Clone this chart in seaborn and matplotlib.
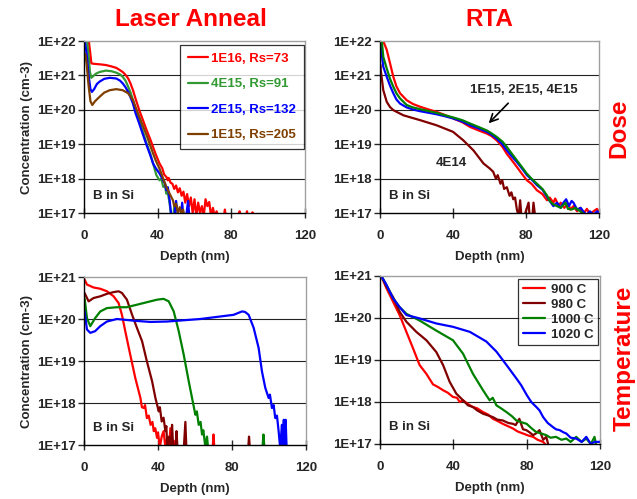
import matplotlib
matplotlib.use("Agg")
import matplotlib.pyplot as plt
import seaborn as sns
import numpy as np
import pandas as pd
from matplotlib.ticker import FixedLocator, FixedFormatter, NullLocator

# ---------------- data (depth in nm, log10 of concentration in cm-3) -------------
# Laser anneal, dose series
la_dose_labels = ["1E16, Rs=73", "4E15, Rs=91", "2E15, Rs=132", "1E15, Rs=205"]
la_dose_colors = ["#ff0000", "#339933", "#0000ff", "#7f3f00"]
la_d_1e16 = [0.3, 2.5, 3.5, 4.0, 5, 6.7, 9, 12, 15, 17.5, 19, 21, 22.5, 24, 25.3, 26.6, 28, 30, 32, 34, 36, 37.5, 39, 41, 42.5,
             43.5, 44.7, 45.5, 46, 47, 48, 49, 50, 51, 52, 53, 54, 55, 56, 57, 58, 59, 60, 61, 62, 63, 64, 65, 66, 67,
             68, 69, 70, 71, 72, 73, 76, 76.5, 77, 84, 84.5, 85, 88, 88.5, 89, 91, 91.5, 92]
la_c_1e16 = [22.3, 22.05, 21.6, 21.35, 21.34, 21.33, 21.32, 21.30, 21.26, 21.22, 21.17, 21.1, 21.02, 20.91, 20.76, 20.57, 20.32, 19.99, 19.7, 19.41, 19.14, 18.92, 18.7, 18.44, 18.3,
             18.12, 18.05, 17.95, 18.02, 17.88, 17.85, 17.7, 17.8, 17.6, 17.72, 17.5, 17.62, 17.3, 17.55, 17.2, 17.45, 17.0, 17.4, 16.9, 17.3, 17.0, 17.2, 16.9, 17.4, 17.2,
             17.32, 16.9, 17.15, 16.9, 17.05, 16.9, 16.9, 17.1, 16.9, 16.9, 17.05, 16.9, 16.9, 17.05, 16.9, 16.9, 17.02, 16.9]
la_d_4e15 = [0.3, 1.5, 2.5, 3.2, 4, 5, 6.5, 8.5, 12, 15, 17.5, 19.5, 21, 22.5, 24, 25.3, 26.6, 28, 30, 32, 34, 36, 37.5, 39.3,
             41, 42, 43, 44, 44.7, 45.5, 46.5, 47.4, 48.5, 49, 49.6]
la_c_4e15 = [22.4, 22.05, 21.6, 21.1, 20.93, 20.98, 21.05, 21.1, 21.14, 21.12, 21.08, 21.03, 20.96, 20.85, 20.67, 20.5, 20.28, 20.0, 19.7, 19.36, 19.02, 18.72, 18.44, 18.1,
              17.95, 18.0, 17.76, 17.8, 17.56, 17.6, 17.27, 16.9, 16.9, 17.2, 16.9]
la_d_2e15 = [0.2, 0.6, 1.5, 2.5, 3.5, 4.3, 5.5, 7, 8.5, 11, 14, 17.5, 19.5, 21, 22.5, 24, 25.3, 26.6, 28, 30, 32, 34, 36, 37.5,
             39, 41, 42, 43, 44, 44.7, 45.5, 46.5, 47.4, 49, 50, 51, 52.5, 53.3, 54, 55.5, 56.5, 57.2]
la_c_2e15 = [22.1, 21.95, 21.6, 21.0, 20.6, 20.52, 20.6, 20.75, 20.82, 20.9, 20.93, 20.91, 20.85, 20.77, 20.66, 20.52, 20.36, 20.18, 19.9, 19.6, 19.28, 18.97, 18.68, 18.44,
             18.3, 18.15, 18.05, 17.95, 17.85, 17.66, 17.75, 17.37, 16.9, 16.9, 17.35, 16.9, 16.9, 17.3, 16.9, 16.9, 17.35, 16.9]
la_d_1e15 = [0.0, 0.8, 1.5, 2.5, 3.5, 4.5, 6, 8.5, 11, 14, 17.5, 21, 24, 26.6, 28, 30, 32, 34, 36, 37.5, 39, 41, 43, 44.7,
             46.5, 48.3, 49, 50, 51, 52, 53, 53.8, 54.5]
la_c_1e15 = [21.65, 21.6, 21.3, 20.7, 20.25, 20.14, 20.25, 20.38, 20.5, 20.57, 20.6, 20.57, 20.48, 20.28, 20.08, 19.8, 19.53, 19.26, 18.96, 18.73, 18.52, 18.29, 18.0, 17.76,
             17.56, 17.37, 17.2, 17.27, 17.0, 17.17, 16.95, 17.1, 16.9]

# RTA, dose series
rta_dose_colors = ["#ff0000", "#0000ff", "#008000", "#800000"]
rta_d_4e15 = [1.5, 1.8, 3.7, 5.5, 7.3, 9, 11, 14.6, 18, 21.9, 26, 31, 35, 40, 45, 49.4, 54, 58.5, 61, 64, 67, 69.5, 72, 75, 78, 80.5,
              83, 86, 89, 91.5, 93, 95, 96, 98, 99, 101, 103, 104.3, 106, 108, 109.7, 111, 113.4, 115, 117, 118.9, 120]
rta_c_4e15 = [22.1, 22.0, 21.74, 21.35, 20.96, 20.68, 20.48, 20.28, 20.17, 20.09, 20.02, 19.94, 19.86, 19.75, 19.64, 19.5, 19.4, 19.31, 19.24, 19.11, 18.93, 18.72, 18.55, 18.34, 18.12, 17.95,
              17.85, 17.66, 17.55, 17.37, 17.45, 17.3, 17.42, 17.2, 17.3, 17.15, 17.28, 17.1, 17.2, 17.05, 17.15, 16.95, 17.12, 16.95, 17.05, 17.12, 17.0]
rta_d_2e15 = [0.5, 1.0, 1.8, 3.7, 5.5, 7.3, 9, 11, 14.6, 18, 21.9, 26, 31, 35, 40, 45, 49.4, 54, 58.5, 61, 64, 67, 69.5, 72, 75,
              78, 80.5, 83, 86, 89, 91.5, 93, 95, 97, 99, 100.5, 102, 103.5, 105, 106, 108, 110, 112, 113.4, 115, 117, 119, 120]
rta_c_2e15 = [22.1, 21.6, 21.25, 20.96, 20.7, 20.48, 20.3, 20.18, 20.07, 20.01, 19.96, 19.92, 19.87, 19.82, 19.75, 19.66, 19.55, 19.46, 19.36, 19.28, 19.16, 19.0, 18.82, 18.66, 18.48,
              18.28, 18.1, 17.98, 17.81, 17.68, 17.47, 17.35, 17.2, 17.3, 17.15, 17.3, 17.4, 17.2, 17.35, 17.3, 17.1, 17.15, 17.0, 16.95, 17.05, 16.95, 17.05, 17.02]
rta_d_1e15 = [0.9, 1.8, 3.7, 5.5, 7.3, 9, 11, 14.6, 18, 21.9, 26, 31, 35, 40, 45, 49.4, 54, 58.5, 61, 64, 67, 69.5, 72, 75, 78,
              80.5, 83, 86, 89, 91.5, 93, 95, 97, 99, 101.6, 103, 105, 107, 109.7, 112, 113.4, 116]
rta_c_1e15 = [22.05, 21.54, 21.2, 20.9, 20.67, 20.48, 20.33, 20.14, 20.07, 20.02, 19.97, 19.91, 19.85, 19.78, 19.7, 19.6, 19.5, 19.4, 19.32, 19.21, 19.08, 18.92, 18.74, 18.53, 18.32,
              18.14, 18.0, 17.85, 17.7, 17.51, 17.35, 17.25, 17.2, 17.15, 17.3, 17.12, 17.1, 17.15, 17.05, 16.95, 16.95, 16.9]
rta_d_4e14 = [0.3, 0.4, 1.8, 3.7, 5.5, 7.3, 12.8, 21.9, 31, 40, 45.7, 51.2, 56.7, 60, 62, 63.5, 64.5, 66, 67, 68, 69.5, 71, 72, 73,
              74, 75, 76, 76.8, 77.5, 79, 81.4, 82, 83.5, 84.1, 85]
rta_c_4e14 = [21.3, 21.16, 20.57, 20.23, 20.08, 19.99, 19.84, 19.7, 19.55, 19.36, 19.11, 18.82, 18.44, 18.3, 18.2, 18.0, 18.1, 17.85, 17.95, 17.7, 17.75, 17.5, 17.6, 17.4,
              17.45, 17.1, 16.9, 17.37, 16.9, 16.9, 17.3, 16.9, 16.9, 17.3, 16.9]

# Laser anneal, temperature series (no legend)
lt_colors = ["#ff0000", "#800000", "#008000", "#0000ff"]
lt_d_red = [0.3, 1.6, 5.2, 8.8, 12.4, 16, 18.7, 20.5, 22.3, 25, 27.7, 30.5, 31.3, 32.3, 33, 34, 35, 36, 37, 37.7, 38.5, 39.5, 40,
            41, 42, 43, 44, 45, 46, 46.7, 47.5, 48.5, 49, 69.5, 70, 70.5]
lt_c_red = [20.94, 20.82, 20.75, 20.72, 20.66, 20.54, 20.38, 20.1, 19.71, 19.15, 18.6, 18.12, 17.9, 17.88, 17.95, 17.64, 17.7, 17.48, 17.55, 17.33, 17.4, 17.17, 17.3,
            16.95, 17.2, 17.33, 16.95, 17.17, 16.95, 17.4, 16.95, 17.1, 16.9, 16.9, 17.25, 16.9]
lt_d_brn = [0.3, 2.5, 5.2, 8.8, 12.4, 16, 18.7, 20.5, 23.2, 26, 28.6, 31.4, 34, 36.8, 38.6, 40.4, 41, 42, 43, 44, 44.5, 45, 46,
            47, 47.6, 48.2, 49.5, 50, 50.5, 54, 54.8, 55.3, 88.8, 89.2, 89.6]
lt_c_brn = [20.62, 20.42, 20.5, 20.54, 20.6, 20.64, 20.66, 20.62, 20.46, 20.1, 19.79, 19.47, 18.99, 18.52, 18.12, 17.8, 17.9, 17.56, 17.65, 17.33, 17.45, 16.95, 17.2,
            16.95, 17.48, 16.95, 16.95, 17.33, 16.95, 16.95, 17.55, 16.95, 16.95, 17.2, 16.95]
lt_d_grn = [0.3, 1.6, 3.4, 6, 8.8, 12.4, 17.8, 23, 28.6, 34, 39.5, 43, 45.8, 48.5, 51.2, 53.9, 56.6, 58.4, 60.2, 61, 62, 63, 63.8,
            64.5, 65.6, 66.5, 67, 96.5, 97, 97.5]
lt_c_grn = [20.5, 20.02, 19.83, 20.02, 20.18, 20.26, 20.28, 20.28, 20.34, 20.4, 20.46, 20.48, 20.42, 20.18, 19.71, 19.15, 18.52, 18.12, 17.72, 17.8, 17.48, 17.55, 17.25,
            17.35, 16.95, 17.2, 16.95, 16.95, 17.25, 16.95]
lt_d_blu = [0.3, 1.6, 3.4, 6, 8.8, 12.4, 17.8, 26.8, 35.9, 44.9, 53.9, 62.9, 71.9, 80.9, 85.4, 87, 89, 91.7, 94.4, 96.2, 98, 99.8,
            100.5, 101.6, 102.5, 103.4, 104.3, 105.2, 106, 106.5, 107, 107.5, 108, 108.5, 109, 109.5]
lt_c_blu = [20.18, 19.75, 19.67, 19.71, 19.83, 19.94, 20.0, 19.96, 19.93, 19.94, 19.97, 20.0, 20.05, 20.1, 20.18, 20.17, 20.1, 19.79, 19.31, 18.75, 18.36, 18.12,
            18.2, 17.88, 17.95, 17.64, 17.7, 17.33, 16.95, 17.2, 17.48, 16.95, 17.6, 16.95, 17.6, 16.95]

# RTA, temperature series
rt_labels = ["900 C", "980 C", "1000 C", "1020 C"]
rt_colors = ["#ff0000", "#800000", "#008000", "#0000ff"]
rt_d_900 = [0.7, 3.5, 7.1, 10.7, 14.4, 18, 21.6, 25.3, 28.9, 31.5, 34.4, 37, 39.8, 42, 43.5, 45.3, 48, 50.7, 53, 56.2, 59, 61.6,
            64, 67, 70, 72.5, 75, 78, 81, 83.5, 86, 89, 91]
rt_c_900 = [21.0, 20.71, 20.39, 20.07, 19.67, 19.28, 18.88, 18.67, 18.42, 18.36, 18.28, 18.22, 18.12, 18.1, 18.0, 18.04, 17.95, 17.88, 17.85, 17.76, 17.7, 17.6,
            17.55, 17.48, 17.42, 17.37, 17.3, 17.25, 17.2, 17.17, 17.1, 17.05, 16.95]
rt_d_980 = [0.7, 3.5, 7.1, 10.7, 14.4, 19.8, 25.3, 30.7, 34.4, 38, 41.6, 45.3, 48, 50.7, 53, 56.2, 59, 61.6, 64, 67, 70, 72.5,
            74, 76, 78, 79.8, 81.5, 83.5, 85, 87, 89, 90.7, 92]
rt_c_980 = [21.0, 20.75, 20.5, 20.15, 19.91, 19.67, 19.47, 19.19, 18.88, 18.48, 18.2, 18.04, 17.92, 17.88, 17.8, 17.72, 17.68, 17.64, 17.58, 17.56, 17.5, 17.48,
            17.45, 17.6, 17.35, 17.33, 17.28, 17.21, 17.25, 17.33, 17.1, 17.17, 16.95]
rt_d_1000 = [0.7, 3.5, 7.1, 10.7, 14.4, 21.6, 30.7, 39.8, 45.3, 50.7, 56.2, 59.8, 61.5, 63.5, 66, 69, 72, 74.4, 77, 80, 82.5, 85,
             88, 90.7, 93, 96, 99, 101.6, 104, 107, 110, 112.5, 115, 117, 118]
rt_c_1000 = [21.0, 20.79, 20.47, 20.26, 20.1, 19.94, 19.7, 19.47, 19.15, 18.67, 18.28, 18.04, 18.1, 17.92, 17.85, 17.76, 17.66, 17.56, 17.52, 17.48, 17.38, 17.29,
             17.25, 17.21, 17.15, 17.17, 17.1, 17.13, 17.05, 17.17, 17.05, 17.13, 17.0, 17.17, 16.95]
rt_d_1020 = [0.7, 3.5, 7.1, 10.7, 14.4, 21.6, 30.7, 39.8, 49, 58, 63.5, 69, 74.4, 77, 80, 82.5, 85.3, 87, 89, 91.5, 94.4, 96,
             98, 100, 101.6, 104, 107, 110, 112.5, 115, 117, 120]
rt_c_1020 = [21.0, 20.79, 20.47, 20.26, 20.07, 19.99, 19.87, 19.79, 19.67, 19.44, 19.2, 18.88, 18.56, 18.4, 18.17, 18.0, 17.88, 17.8, 17.64, 17.5, 17.4, 17.35,
             17.33, 17.28, 17.25, 17.15, 17.13, 17.05, 17.17, 17.0, 17.05, 17.05]

x_ticks = [0, 40, 80, 120]

# ---------------- style --------------------------------------------------------
sns.set_style("white")
plt.rcParams["font.family"] = ["Liberation Sans", "DejaVu Sans"]
plt.rcParams["font.weight"] = "bold"
plt.rcParams["axes.labelweight"] = "bold"

fig = plt.figure(figsize=(6.37, 4.99), dpi=100)
W, H = 637.0, 499.0


def add_ax(l, r, t, b):
    return fig.add_axes([l / W, 1 - b / H, (r - l) / W, (b - t) / H])


def style_ax(ax, top_exp, show_ylabel):
    ax.set_yscale("log")
    ax.set_xlim(0, 120)
    ax.set_ylim(1e17, 10.0 ** top_exp)
    exps = list(range(17, top_exp + 1))
    ax.yaxis.set_major_locator(FixedLocator([10.0 ** e for e in exps]))
    ax.yaxis.set_major_formatter(FixedFormatter([f"1E+{e}" for e in exps]))
    ax.yaxis.set_minor_locator(NullLocator())
    ax.xaxis.set_major_locator(FixedLocator(x_ticks))
    ax.set_xticklabels([str(v) for v in x_ticks])
    for e in exps[1:-1]:
        ax.axhline(10.0 ** e, color="#222222", lw=0.8, zorder=0.5)
    for s in ["left", "bottom"]:
        ax.spines[s].set_color("black")
        ax.spines[s].set_linewidth(1.0)
    for s in ["top", "right"]:
        ax.spines[s].set_color("#a0a0a0")
        ax.spines[s].set_linewidth(1.0)
    ax.tick_params(axis="y", direction="out", length=4, width=1, pad=2, labelsize=9.5, left=True)
    ax.tick_params(axis="x", direction="inout", length=7, width=1, pad=9, labelsize=9.5, bottom=True)
    for lab in ax.get_xticklabels() + ax.get_yticklabels():
        lab.set_fontweight("bold")
    ax.set_xlabel("Depth (nm)", fontsize=9.5, fontweight="bold", labelpad=6)
    if show_ylabel:
        ax.set_ylabel("Concentration (cm-3)", fontsize=9.5, fontweight="bold", labelpad=3)
    else:
        ax.set_ylabel("")
    ax.text(0.04, 0.10, "B in Si", transform=ax.transAxes, fontsize=9.5,
            fontweight="bold", va="center", ha="left")


def draw(ax, d, c, color, label=None):
    df = pd.DataFrame({"depth": d, "conc": np.power(10.0, c)})
    kw = dict(data=df, x="depth", y="conc", ax=ax, color=color, lw=1.6,
              estimator=None, sort=False)
    if label is not None:
        kw["label"] = label
    sns.lineplot(**kw)


# ---- top-left: Laser anneal dose
ax1 = add_ax(84, 305, 41, 213)
for d, c, col, lab in zip([la_d_1e16, la_d_4e15, la_d_2e15, la_d_1e15],
                          [la_c_1e16, la_c_4e15, la_c_2e15, la_c_1e15],
                          la_dose_colors, la_dose_labels):
    draw(ax1, d, c, col, lab)
style_ax(ax1, 22, True)
leg = ax1.legend(loc="upper right", bbox_to_anchor=(0.995, 0.978), fontsize=9.5,
                 handlelength=1.5, labelspacing=1.0, frameon=True, fancybox=False,
                 borderpad=0.6, handletextpad=0.25, borderaxespad=0)
leg.get_frame().set_edgecolor("black")
leg.get_frame().set_linewidth(0.9)
for txt, col in zip(leg.get_texts(), la_dose_colors):
    txt.set_color(col)
    txt.set_fontweight("bold")

# ---- top-right: RTA dose
ax2 = add_ax(380, 599, 41, 213)
for d, c, col in zip([rta_d_4e15, rta_d_2e15, rta_d_1e15, rta_d_4e14],
                     [rta_c_4e15, rta_c_2e15, rta_c_1e15, rta_c_4e14],
                     rta_dose_colors):
    draw(ax2, d, c, col)
style_ax(ax2, 22, False)
ax2.annotate("", xy=(58.5, 10 ** 19.55), xytext=(71.3, 10 ** 20.25),
             arrowprops=dict(arrowstyle="->", color="black", lw=1.2, mutation_scale=14))
ax2.text(78.6, 10 ** 20.57, "1E15, 2E15, 4E15", fontsize=9.5, fontweight="bold",
         ha="center", va="center")
ax2.text(39, 10 ** 18.46, "4E14", fontsize=9.5, fontweight="bold", ha="center", va="center")

# ---- bottom-left: Laser anneal temperature
ax3 = add_ax(84, 306, 277, 445)
for d, c, col in zip([lt_d_red, lt_d_brn, lt_d_grn, lt_d_blu],
                     [lt_c_red, lt_c_brn, lt_c_grn, lt_c_blu], lt_colors):
    draw(ax3, d, c, col)
style_ax(ax3, 21, True)

# ---- bottom-right: RTA temperature
ax4 = add_ax(380, 600, 276, 444)
for d, c, col, lab in zip([rt_d_900, rt_d_980, rt_d_1000, rt_d_1020],
                          [rt_c_900, rt_c_980, rt_c_1000, rt_c_1020], rt_colors, rt_labels):
    draw(ax4, d, c, col, lab)
style_ax(ax4, 21, False)
leg4 = ax4.legend(loc="upper right", bbox_to_anchor=(0.991, 0.982), fontsize=9.5,
                  handlelength=1.7, labelspacing=0.2, frameon=True, fancybox=False,
                  borderpad=0.35, handletextpad=0.4, borderaxespad=0)
leg4.get_frame().set_edgecolor("black")
leg4.get_frame().set_linewidth(0.9)
for txt in leg4.get_texts():
    txt.set_fontweight("bold")

# ---- headings
fig.text(191 / W, 1 - 19 / H, "Laser Anneal", color="#ff0000", fontsize=17.5,
         fontweight="bold", ha="center", va="center")
fig.text(489 / W, 1 - 19 / H, "RTA", color="#ff0000", fontsize=17.5,
         fontweight="bold", ha="center", va="center")
fig.text(619 / W, 1 - 128 / H, "Dose", color="#ff0000", fontsize=17.5,
         fontweight="bold", ha="center", va="center", rotation=90)
fig.text(624 / W, 1 - 358 / H, "Temperature", color="#ff0000", fontsize=17.5,
         fontweight="bold", ha="center", va="center", rotation=90)

fig.savefig("out.png", dpi=100)
